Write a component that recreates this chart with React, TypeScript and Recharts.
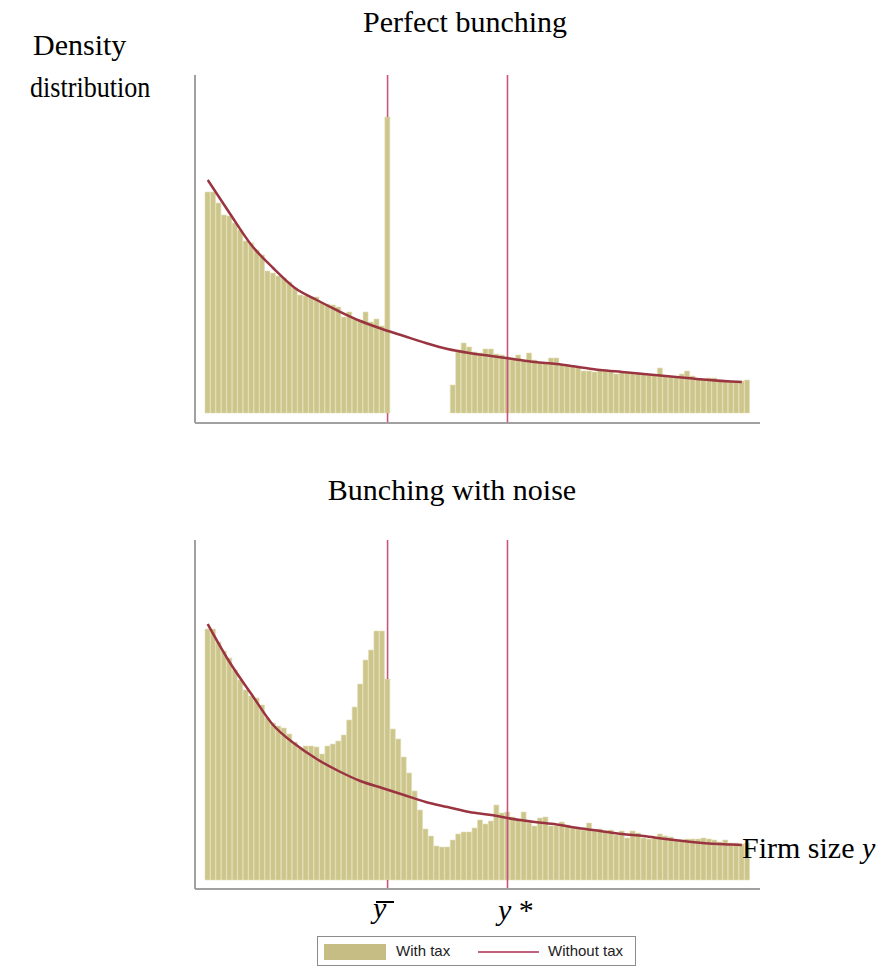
import React from 'react';
import { ComposedChart, Bar, Line, XAxis, YAxis, ReferenceLine } from 'recharts';

// ---------- data ----------
const bins: number[] = [
  0, 1, 2, 3, 4, 5, 6, 7, 8, 9, 10, 11, 12, 13, 14, 15, 16, 17, 18, 19,
  20, 21, 22, 23, 24, 25, 26, 27, 28, 29, 30, 31, 32, 33, 34, 35, 36, 37, 38, 39,
  40, 41, 42, 43, 44, 45, 46, 47, 48, 49, 50, 51, 52, 53, 54, 55, 56, 57, 58, 59,
  60, 61, 62, 63, 64, 65, 66, 67, 68, 69, 70, 71, 72, 73, 74, 75, 76, 77, 78, 79,
  80, 81, 82, 83, 84, 85, 86, 87, 88, 89, 90, 91, 92, 93, 94, 95, 96, 97, 98, 99,
];

const Y_BAR_BIN = 33; // threshold  y-bar
const Y_STAR_BIN = 55; // y*

// Perfect bunching: with tax histogram
const topWithTax: (number | null)[] = [
  221, 221, 210, 198, 197, 190, 183, 172, 170, 163,
  158, 142, 140, 137, 135, 131, 125, 118, 117, 116,
  116, 110, 109, 108, 106, 96, 101, 94, 93, 101,
  91, 94, 87, 296, null, null, null, null, null, null,
  null, null, null, null, null, 28, 63, 70, 66, 61,
  60, 64, 64, 59, 58, 56, 55, 58, 53, 60,
  53, 51, 50, 55, 55, 48, 48, 47, 46, 42,
  42, 41, 43, 42, 41, 39, 41, 40, 39, 40,
  39, 38, 38, 45, 37, 36, 36, 39, 42, 37,
  34, 34, 35, 35, 33, 32, 32, 32, 32, 33,
];

// Perfect bunching: without tax density (sampled bins)
const topCurveBins: number[] = [0, 4, 8, 12, 16, 20, 24, 28, 32, 36, 40, 44, 48, 52, 56, 60, 64, 68, 72, 76, 80, 84, 88, 92, 96, 98];
const topCurveValues: number[] = [233, 200, 168, 145, 125, 113, 102, 92, 84, 77, 70, 64, 60, 57, 54, 51, 49, 46, 43, 41, 39, 37, 35, 33, 31.5, 31];

// Bunching with noise: with tax histogram
const bottomWithTax: number[] = [
  251, 251, 238, 229, 222, 210, 200, 190, 184, 182,
  175, 162, 157, 154, 152, 146, 138, 132, 134, 134,
  133, 126, 134, 136, 139, 145, 160, 173, 196, 220,
  230, 249, 249, 201, 151, 141, 123, 107, 89, 70,
  51, 44, 34, 33, 33, 40, 46, 48, 48, 52,
  60, 56, 59, 75, 67, 68, 63, 60, 68, 57,
  54, 62, 63, 54, 54, 58, 55, 52, 52, 50,
  57, 49, 51, 49, 50, 45, 49, 42, 49, 47,
  42, 41, 43, 46, 44, 43, 40, 40, 41, 41,
  41, 42, 41, 40, 38, 40, 37, 37, 36, 37,
];

const bottomCurveBins: number[] = [0, 4, 8, 12, 16, 20, 24, 28, 32, 36, 40, 44, 48, 52, 56, 60, 64, 68, 72, 76, 80, 84, 88, 92, 96, 98];
const bottomCurveValues: number[] = [256, 218, 186, 155, 136, 121, 109, 99, 92, 85, 78, 73, 68, 65, 61, 58, 55.5, 52, 49, 46, 44, 41, 38.5, 36.5, 35.5, 35];

// ---------- build tables ----------
function buildTable(withTax: (number | null)[], curveBins: number[], curveValues: number[]) {
  return bins.map((b, i) => {
    const k = curveBins.indexOf(b);
    return { bin: b, withTax: withTax[i], withoutTax: k >= 0 ? curveValues[k] : null };
  });
}
const topData = buildTable(topWithTax, topCurveBins, topCurveValues);
const bottomData = buildTable(bottomWithTax, bottomCurveBins, bottomCurveValues);

// ---------- styles ----------
const W = 879;
const BAR_FILL = '#cdc68c';
const BAR_STROKE = '#e3ddb6';
const CURVE = '#9a3441';
const VLINE = '#c9557d';
const AXIS = '#a0a0a0';
const SERIF = '"Liberation Serif", "Times New Roman", serif';
const SANS = '"Liberation Sans", Arial, sans-serif';

type PanelProps = {
  data: any[];
  top: number;
  height: number;
  marginTop: number;
  marginBottom: number;
  domain: [number, number];
  barAtThreshold: number;
};

function Panel({ data, top, height, marginTop, marginBottom, domain, barAtThreshold }: PanelProps) {
  return (
    <div style={{ position: 'absolute', left: 0, top, width: W, height }}>
      <ComposedChart
        width={W}
        height={height}
        data={data}
        margin={{ top: marginTop, right: 119, bottom: marginBottom, left: 194 }}
        barCategoryGap={0}
        barGap={0}
      >
        <XAxis
          dataKey="bin"
          type="category"
          height={1}
          tick={false}
          tickLine={false}
          axisLine={{ stroke: AXIS, strokeWidth: 2 }}
          padding={{ left: 10, right: 10 }}
          interval={0}
        />
        <YAxis
          type="number"
          domain={domain}
          width={1}
          tick={false}
          tickLine={false}
          axisLine={{ stroke: AXIS, strokeWidth: 2 }}
          allowDataOverflow
        />
        <Bar dataKey="withTax" fill={BAR_FILL} stroke={BAR_STROKE} strokeWidth={0.6} isAnimationActive={false} />
        {/* y-bar line: seen above the threshold bar and below the bar baseline */}
        <ReferenceLine
          segment={[{ x: Y_BAR_BIN, y: barAtThreshold }, { x: Y_BAR_BIN, y: domain[1] }]}
          stroke={VLINE}
          strokeWidth={1.6}
        />
        <ReferenceLine
          segment={[{ x: Y_BAR_BIN, y: domain[0] }, { x: Y_BAR_BIN, y: 0 }]}
          stroke={VLINE}
          strokeWidth={1.6}
        />
        <ReferenceLine x={Y_STAR_BIN} stroke={VLINE} strokeWidth={1.6} />
        <Line
          dataKey="withoutTax"
          type="monotone"
          connectNulls
          dot={false}
          activeDot={false}
          stroke={CURVE}
          strokeWidth={2.5}
          isAnimationActive={false}
        />
      </ComposedChart>
    </div>
  );
}

const txt = (extra: React.CSSProperties): React.CSSProperties => ({
  position: 'absolute',
  fontFamily: SERIF,
  fontSize: 30,
  lineHeight: '30px',
  whiteSpace: 'nowrap',
  color: '#000',
  ...extra,
});

export default function App() {
  return (
    <div style={{ position: 'absolute', left: 0, top: 0, width: W, height: 970, background: '#fff', overflow: 'hidden' }}>
      <Panel
        data={topData}
        top={0}
        height={431}
        marginTop={75}
        marginBottom={7}
        domain={[-10, 338]}
        barAtThreshold={topWithTax[Y_BAR_BIN] as number}
      />
      <Panel
        data={bottomData}
        top={480}
        height={421}
        marginTop={60}
        marginBottom={11}
        domain={[-9, 340]}
        barAtThreshold={bottomWithTax[Y_BAR_BIN]}
      />

      <div style={txt({ left: 465, top: 7, transform: 'translateX(-50%)' })}>Perfect bunching</div>
      <div style={txt({ left: 33, top: 30 })}>Density</div>
      <div style={txt({ left: 30, top: 72, transform: 'scaleX(0.87)', transformOrigin: 'left center' })}>distribution</div>
      <div style={txt({ left: 452, top: 475, transform: 'translateX(-50%)' })}>Bunching with noise</div>
      <div style={txt({ left: 742, top: 833 })}>
        Firm size <span style={{ fontStyle: 'italic' }}>y</span>
      </div>

      {/* y-bar label */}
      <div style={txt({ left: 373, top: 893, fontStyle: 'italic' })}>y</div>
      <div style={{ position: 'absolute', left: 376, top: 901, width: 18, height: 1.5, background: '#000' }} />
      {/* y* label */}
      <div style={txt({ left: 498, top: 895 })}>
        <span style={{ fontStyle: 'italic' }}>y</span> *
      </div>

      {/* legend */}
      <div
        style={{
          position: 'absolute',
          left: 317,
          top: 936,
          width: 319,
          height: 30,
          border: '1px solid #8c8c8c',
          boxSizing: 'border-box',
          fontFamily: SANS,
          fontSize: 15,
          color: '#222',
        }}
      >
        <div style={{ position: 'absolute', left: 6, top: 7, width: 62, height: 16, background: '#c5bd84' }} />
        <div style={{ position: 'absolute', left: 78, top: 5, lineHeight: '18px' }}>With tax</div>
        <div style={{ position: 'absolute', left: 160, top: 14, width: 61, height: 2, background: '#c0607a' }} />
        <div style={{ position: 'absolute', left: 230, top: 5, lineHeight: '18px' }}>Without tax</div>
      </div>
    </div>
  );
}
